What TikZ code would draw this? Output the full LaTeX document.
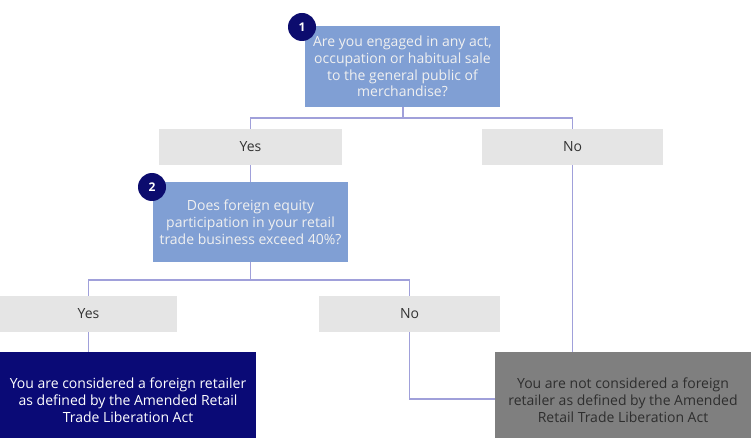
\documentclass[tikz,border=0pt]{standalone}
\usepackage{fontspec}
\setmainfont{Open Sans}
\begin{document}
\begin{tikzpicture}[x=1pt,y=-1pt,
  qbox/.style={rectangle,fill=qblue,inner sep=0pt,align=center,text=white!94!black,font=\fontsize{14}{16.8}\selectfont},
  abox/.style={rectangle,fill=agray,inner sep=0pt,align=center,text=black!80,minimum height=36pt,font=\fontsize{14}{16.8}\selectfont},
  num/.style={circle,fill=navy,inner sep=0pt,minimum size=28pt,text=white,font=\bfseries\fontsize{12}{14}\selectfont},
  conn/.style={draw=lineblue,line width=1.2pt},
  rtext/.style={align=center,inner sep=0pt,font=\fontsize{14}{17}\selectfont}]
\definecolor{qblue}{RGB}{128,159,212}
\definecolor{agray}{RGB}{229,229,229}
\definecolor{navy}{RGB}{12,12,110}
\definecolor{darkbox}{RGB}{10,10,118}
\definecolor{graybox}{RGB}{127,127,127}
\definecolor{lineblue}{RGB}{160,160,218}
\useasboundingbox[fill=white] (0,0) rectangle (751,438);

\node[qbox,minimum width=195pt,minimum height=81pt] (q1) at (402.5,66.5) {Are you engaged in any act,\\occupation or habitual sale\\to the general public of\\merchandise?};
\node[num] (n1) at (302,27) {1};

\node[abox,minimum width=183pt] (yes1) at (250.5,147) {Yes};
\node[abox,minimum width=181pt] (no1) at (572.5,147) {No};

\node[qbox,minimum width=195pt,minimum height=80pt] (q2) at (250.5,222) {Does foreign equity\\participation in your retail\\trade business exceed 40\%?};
\node[num] (n2) at (152,187) {2};

\node[abox,minimum width=177pt] (yes2) at (88.5,314) {Yes};
\node[abox,minimum width=181pt] (no2) at (409.5,314) {No};

\node[rectangle,fill=darkbox,minimum width=256pt,minimum height=86pt,inner sep=0pt] (res1) at (128,395) {};
\node[rtext,text=white] (t1) at (128,400) {You are considered a foreign retailer\\as defined by the Amended Retail\\Trade Liberation Act};
\node[rectangle,fill=graybox,minimum width=256pt,minimum height=86pt,inner sep=0pt] (res2) at (623,395) {};
\node[rtext,text=black!82] (t2) at (623,400) {You are not considered a foreign\\retailer as defined by the Amended\\Retail Trade Liberation Act};

\coordinate (j1) at (403,118);
\coordinate (j2) at (250.5,280);
\draw[conn] (q1.south -| j1) -- (j1);
\draw[conn] (j1) -| (yes1.north);
\draw[conn] (j1) -| (no1.north);
\draw[conn] (yes1.south) -- (q2.north);
\draw[conn] (no1.south) -- (no1.south |- res2.north);
\draw[conn] (q2.south) -- (j2);
\draw[conn] (j2) -| (yes2.north);
\draw[conn] (j2) -| (no2.north);
\draw[conn] (yes2.south) -- (yes2.south |- res1.north);
\draw[conn] (no2.south) |- ([yshift=-4pt]res2.west);
\end{tikzpicture}
\end{document}
